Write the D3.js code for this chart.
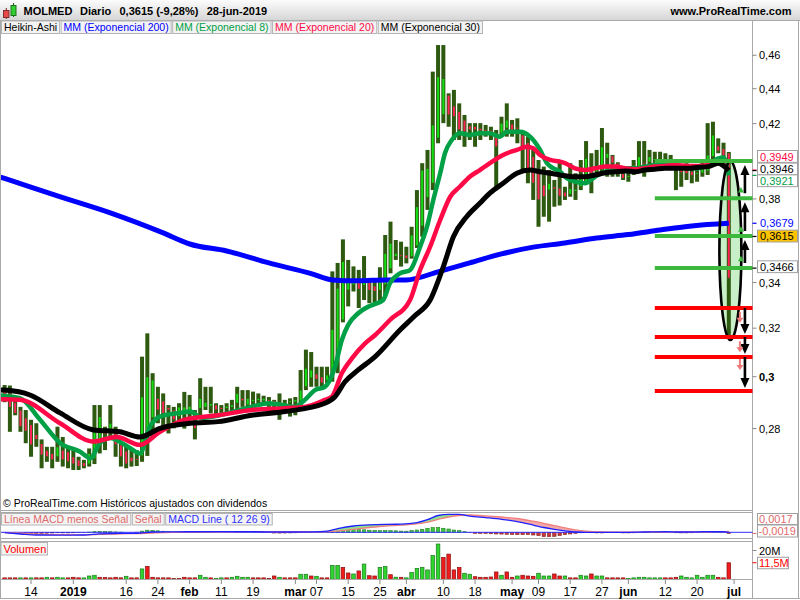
<!DOCTYPE html>
<html><head><meta charset="utf-8">
<script src="https://cdn.jsdelivr.net/npm/d3@7"></script>
<style>body{margin:0;background:#fff}svg{display:block;font-family:"Liberation Sans",Arial,sans-serif}</style>
</head><body><svg id="c" width="800" height="600"></svg>
<script>
// ---------------- DATA ----------------
const HOLIDAYS = ["2018-12-24","2018-12-25","2018-12-26","2018-12-31","2019-01-01","2019-04-19","2019-04-22","2019-05-01"];
const FIRST_DAY = "2018-12-07", LAST_DAY = "2019-06-28";
const xTickDates  = ["2018-12-14","2019-01-02","2019-01-16","2019-01-24","2019-02-01","2019-02-11","2019-02-19","2019-03-01","2019-03-07","2019-03-15","2019-03-25","2019-04-01","2019-04-10","2019-04-18","2019-05-02","2019-05-09","2019-05-17","2019-05-27","2019-06-03","2019-06-12","2019-06-20","2019-07-01"];
const xTickLabels = ["14","2019","16","24","feb","11","19","mar","07","15","25","abr","10","18","may","09","17","27","jun","12","20","jul"];
const xTickBold   = [0,1,0,0,1,0,0,1,0,0,0,1,0,0,1,0,0,0,1,0,0,1];

// Heikin-Ashi candles (one per trading day)
const haOpen = [.2945,.2935,.2900,.2870,.2840,.2815,.2778,.2745,.2720,.2709,
.2697,.2721,.2715,.2697,.2686,.2676,.2671,.2690,.2740,.2800,
.2790,.2790,.2740,.2718,.2695,.2690,.2700,.2790,.2840,.2915,
.2905,.2880,.2870,.2845,.2860,.2862,.2830,.2876,.2880,.2885,
.2890,.2880,.2876,.2880,.2896,.2915,.2889,.2902,.2906,.2905,
.2910,.2907,.2900,.2897,.2898,.2900,.2905,.2960,.2995,.3011,
.3000,.2985,.2996,.3095,.3235,.3366,.3389,.3405,.3387,.3403,
.3385,.3365,.3390,.3463,.3520,.3528,.3527,.3519,.3570,.3665,
.3807,.3880,.4120,.4250,.4363,.4300,.4270,.4220,.4188,.4185,
.4175,.4168,.4164,.4137,.4147,.4175,.4198,.4180,.4137,.4096,
.4020,.3950,.3872,.3845,.3862,.3856,.3835,.3823,.3838,.3862,
.3888,.3950,.3940,.3950,.4011,.4025,.3985,.3930,.3918,.3949,
.3962,.3990,.3990,.4005,.4008,.4006,.4003,.3996,.3978,.3956,
.3943,.3932,.3933,.3944,.4020,.4078,.4064,.4040];
const haHigh = [.2967,.2965,.2905,.2882,.2870,.2833,.2820,.2760,.2733,.2733,
.2807,.2769,.2727,.2721,.2697,.2686,.2727,.2889,.2889,.2807,
.2889,.2807,.2746,.2733,.2721,.2721,.3081,.3178,.3014,.2960,
.2934,.2889,.2882,.2896,.2940,.2928,.2870,.2994,.2960,.2960,
.2896,.2889,.2896,.2909,.2960,.2947,.2947,.2941,.2934,.2925,
.2920,.2909,.2934,.2909,.2915,.2920,.3027,.3110,.3100,.3040,
.3040,.3040,.3451,.3490,.3601,.3504,.3474,.3458,.3522,.3412,
.3420,.3470,.3622,.3687,.3598,.3590,.3566,.3662,.3845,.3985,
.4056,.4501,.4663,.4663,.4373,.4393,.4315,.4249,.4203,.4203,
.4203,.4193,.4183,.4165,.4239,.4315,.4221,.4230,.4147,.4128,
.4056,.4002,.3967,.3949,.3897,.3993,.3862,.3985,.3932,.4002,
.4104,.4038,.4056,.4176,.4095,.4029,.3990,.3967,.3958,.4002,
.4104,.4104,.4056,.4046,.4046,.4038,.4029,.4002,.3980,.3985,
.3975,.3975,.4002,.4203,.4211,.4119,.4095,.4045];
const haLow = [.2900,.2788,.2850,.2788,.2746,.2697,.2733,.2656,.2679,.2656,
.2679,.2662,.2656,.2650,.2650,.2656,.2662,.2671,.2709,.2721,
.2758,.2697,.2662,.2656,.2662,.2664,.2679,.2700,.2769,.2820,
.2807,.2782,.2801,.2807,.2800,.2840,.2760,.2845,.2870,.2857,
.2845,.2857,.2850,.2857,.2857,.2882,.2882,.2882,.2889,.2889,
.2882,.2857,.2833,.2857,.2845,.2850,.2896,.2947,.2960,.2960,
.2960,.2974,.2980,.3014,.3225,.3294,.3360,.3287,.3322,.3308,
.3310,.3310,.3340,.3442,.3504,.3473,.3488,.3510,.3560,.3614,
.3745,.3845,.4092,.4203,.4183,.4110,.4110,.4073,.4110,.4073,
.4110,.4128,.4110,.3853,.4128,.4128,.4128,.4092,.3949,.3880,
.3795,.3662,.3711,.3687,.3761,.3767,.3795,.3811,.3795,.3845,
.3880,.3829,.3914,.3932,.3914,.3914,.3914,.3897,.3888,.3923,
.3958,.3914,.3975,.3967,.3975,.3975,.3958,.3845,.3862,.3897,
.3880,.3888,.3914,.3923,.4002,.4038,.4002,.3160];
const haClose = [.2925,.2880,.2857,.2807,.2790,.2740,.2760,.2703,.2697,.2686,
.2733,.2686,.2679,.2671,.2662,.2662,.2709,.2788,.2845,.2780,
.2820,.2740,.2697,.2671,.2679,.2686,.2921,.3000,.2987,.2870,
.2857,.2870,.2833,.2882,.2882,.2885,.2800,.2915,.2900,.2895,
.2870,.2872,.2885,.2890,.2934,.2905,.2915,.2910,.2915,.2915,
.2905,.2895,.2895,.2900,.2905,.2910,.2947,.3034,.3027,.2990,
.2975,.3007,.3195,.3375,.3497,.3412,.3420,.3370,.3420,.3365,
.3360,.3410,.3535,.3583,.3535,.3520,.3511,.3622,.3761,.3949,
.3958,.4193,.4471,.4460,.4249,.4239,.4165,.4155,.4165,.4165,
.4160,.4160,.4150,.4073,.4203,.4221,.4160,.4175,.4056,.3932,
.3880,.3795,.3811,.3880,.3850,.3814,.3811,.3853,.3850,.3914,
.4011,.3930,.3960,.4073,.4038,.3985,.3960,.3905,.3920,.3975,
.4020,.3985,.4020,.4010,.4005,.4000,.3990,.3960,.3935,.3930,
.3920,.3935,.3955,.4029,.4137,.4050,.4025,.3420];

// Moving averages read at sample days: [dayIndex, value] (-0.9 = left edge of the chart)
const ema200 = [[-0.9,.3913],[0,.3905],[10,.3815],[20,.3730],[30,.3632],[35,.3579],[42,.3546],[50,.3490],[58,.3441],[62,.3412],[67,.3408],[72,.3412],[76,.3412],[82,.3449],[88,.3490],[94,.3532],[100,.3564],[106,.3584],[112,.3608],[118,.3624],[124,.3646],[130,.3666],[137,.3679]];
const ema8 = [[-0.9,.2926],[0,.2924],[2.9,.2916],[6.7,.2833],[10.5,.2747],[14.3,.2715],[16.2,.2692],[18,.2746],[19.9,.2765],[23.7,.2729],[25.6,.2709],[27.5,.2807],[29.4,.2845],[33.2,.2859],[35.1,.2864],[37.3,.2840],[46.7,.2882],[49.9,.2896],[54.9,.2882],[56.8,.2909],[58.7,.2947],[60.6,.2960],[62.5,.3040],[63.8,.3150],[65,.3214],[66.9,.3264],[68.8,.3293],[70.1,.3305],[71.6,.3322],[72.9,.3397],[74.8,.3442],[76.7,.3457],[78.6,.3566],[79.9,.3662],[81.1,.3795],[82.4,.3932],[83.3,.4038],[84.6,.4110],[86.1,.4147],[88,.4137],[89.9,.4147],[91.8,.4147],[93.7,.4128],[95,.4155],[97.5,.4155],[99.4,.4128],[101.3,.4056],[102.6,.3985],[103.8,.3958],[105.1,.3940],[106,.3914],[107.9,.3888],[109.8,.3880],[111.7,.3914],[113.6,.3940],[115.5,.3949],[117.4,.3958],[119.3,.3958],[121.1,.3967],[123,.3975],[124.9,.3985],[126.8,.3975],[129.3,.3958],[131.2,.3958],[133.1,.3975],[135,.4011],[136,.4015],[137,.3921]];
const ema20 = [[-0.9,.2911],[0,.2911],[2.9,.2909],[10.5,.2820],[16.8,.2752],[21.2,.2769],[25.6,.2740],[29.4,.2788],[34.1,.2833],[40.4,.2850],[46.7,.2870],[53,.2877],[56.8,.2882],[60.6,.2909],[61.9,.2921],[63.8,.3014],[65.7,.3074],[68.2,.3136],[70.1,.3171],[72.9,.3235],[76.7,.3322],[78.6,.3457],[80.5,.3566],[82.4,.3695],[84.3,.3811],[86.1,.3862],[88,.3914],[89.9,.3949],[91.8,.3985],[94.3,.4029],[96.9,.4056],[98.8,.4073],[100,.4065],[101.3,.4029],[103.2,.4002],[105.1,.3993],[106,.3985],[107.9,.3958],[109.8,.3949],[111.7,.3958],[113.6,.3967],[115.5,.3967],[117.4,.3958],[119.3,.3953],[121.1,.3958],[123,.3967],[124.9,.3970],[126.8,.3975],[129.3,.3970],[131.2,.3970],[133.1,.3975],[135,.3993],[137,.3949]];
const ema30 = [[-0.9,.2948],[0,.2947],[4.8,.2928],[10.5,.2859],[16.8,.2795],[21.8,.2788],[25.6,.2769],[29.4,.2801],[35.1,.2820],[40.4,.2826],[46.7,.2850],[53,.2864],[60.6,.2896],[62.5,.2921],[64.4,.2980],[66.9,.3027],[70.1,.3081],[74.8,.3192],[77.6,.3253],[80.5,.3322],[83,.3473],[84.9,.3614],[87.4,.3711],[89.9,.3778],[91.8,.3829],[94.3,.3880],[96.9,.3932],[99.4,.3949],[101.3,.3940],[103.2,.3932],[105.1,.3923],[107.9,.3914],[109.8,.3914],[111.7,.3923],[113.6,.3935],[115.5,.3940],[117.4,.3944],[119.3,.3940],[121.1,.3949],[123,.3953],[124.9,.3958],[126.8,.3958],[129.3,.3958],[131.2,.3963],[133.1,.3967],[135,.3985],[137,.3946]];

// Volume (millions) and colour (g = up, r = down)
const volume = [1,1,1,1,1,1,1,1,1.4,1,
1.4,1,1,1.4,1,1,2.3,2.8,1.4,1.2,
1,1.4,1,2.1,1,1,7.2,9,1.4,1,
1,1,0.5,0.5,1.4,1,1,2.8,1.4,1,
0.5,1,1,1.4,2.1,1.4,1.4,1,1,1,
0.6,2.3,1.4,1,1,1,3.5,3.5,2.3,2.1,
1,1,9.7,9.7,8.3,4.4,3.7,5.8,10.6,2.5,
2.3,8.3,9,3.2,1.5,1.4,1,4.8,7.6,8.3,
6.5,16.6,24.5,15.2,17.5,6.5,8.3,4.2,3.5,1.8,
1.4,1.4,1.6,5.1,2.8,5.1,1.4,2.3,2.8,2.3,
2.1,4.2,2.3,2.3,3.7,2.3,2.3,1,1,2.8,
2.3,3.7,2.3,2.3,1,1,1,1,0.5,1,
1.4,1.4,1,1,1,1,1,1.4,2.3,1.4,
1,2.8,1.4,2.8,2.8,1.4,1,11.5];
const volColor = "rrrgrgrrgr"+"ggrrrgggrr"+"rrrgrrgrrr"+"rrrrrrrggr"+"ggrggggrrr"+"rrgrrrggrg"+"rrggrrgrgr"+"rggrgrgggg"+"gggrrrrggr"+"rrrrgrrgrr"+"rgggrrgrrg"+"grggrrrrgg"+"gggggrrrgg"+"gggggrrr";

// MACD (12 26 9)
const macdIdx = [0,3,6,10,15,18,22,25,28,32,38,45,50,54,58,61,63,66,69,72,75,78,80,82,84,86,88,91,94,97,100,102,104,106,108,110,113,117,121,125,128,131,134,136,137];
const macdLine = [-.0007,-.0028,-.0045,-.0048,-.0045,-.0025,-.0017,-.0017,.0005,.0008,.0010,.0010,.0008,.0005,.0008,.0020,.0060,.0105,.0125,.0133,.0135,.0160,.0210,.0280,.0300,.0300,.0270,.0245,.0217,.0177,.0120,.0080,.0050,.0025,.0005,0,0,0,.0005,.0012,.0005,.0008,.0012,.0010,-.0002];
const macdSignal = [-.0005,-.0015,-.0030,-.0040,-.0042,-.0035,-.0025,-.0022,-.0012,0,.0008,.0010,.0010,.0009,.0008,.0012,.0020,.0050,.0080,.0105,.0118,.0140,.0170,.0215,.0255,.0280,.0288,.0275,.0255,.0230,.0185,.0150,.0110,.0075,.0040,.0018,.0005,.0001,.0002,.0008,.0008,.0007,.0010,.0011,.0017];
const macdHist = [-.0005,-.0012,-.0015,-.0015,-.0017,-.0018,-.0017,-.0018,-.0015,-.0012,
-.0008,-.0010,-.0010,-.0008,-.0006,-.0004,.0003,.0010,.0013,.0012,
.0010,.0006,.0003,0,0,.0002,.0020,.0035,.0033,.0025,
.0018,.0012,.0008,.0006,.0005,.0004,.0002,.0003,.0002,.0001,
0,0,0,0,.0001,.0001,0,0,0,-.0002,
-.0004,-.0012,-.0013,-.0012,-.0010,-.0008,-.0004,.0003,.0006,.0004,
.0002,.0002,.0020,.0035,.0048,.0052,.0050,.0045,.0042,.0035,
.0030,.0028,.0030,.0028,.0025,.0020,.0018,.0028,.0038,.0050,
.0067,.0078,.0083,.0067,.0055,.0038,.0028,.0010,-.0005,-.0017,
-.0018,-.0020,-.0024,-.0028,-.0030,-.0033,-.0036,-.0039,-.0039,-.0039,
-.0045,-.0055,-.0072,-.0072,-.0067,-.0055,-.0039,-.0028,-.0017,-.0008,
-.0004,-.0002,-.0010,-.0010,-.0004,0,0,-.0010,-.0010,-.0008,
-.0003,.0002,.0004,.0005,.0004,.0002,0,-.0008,-.0010,-.0010,
-.0008,-.0002,.0002,.0004,.0006,.0003,.0002,-.0019];

// Drawn annotations (price levels)
const greenLevels = [0.3997, 0.3804, 0.3617, 0.3466];
const redLevels   = [0.3287, 0.3163, 0.3080, 0.2943];
const levelStartDay = 123;
const greenMarks = [0.3845, 0.3650, 0.3510];
const pinkMarks  = [0.3245, 0.3120, 0.3047];
const ellipseTop = 0.3995, ellipseBottom = 0.3150, ellipseDay = 137.3;
const lastPrice = 0.3615;

const priceTicks = [0.28, 0.30, 0.32, 0.34, 0.38, 0.42, 0.44, 0.46];
const header = {name:"MOLMED", period:"Diario", last:"0,3615", change:"(-9,28%)", date:"28-jun-2019"};
const legendItems = [["Heikin-Ashi","#000"],["MM (Exponencial 200)","#0000ff"],["MM (Exponencial 8)","#00a046"],["MM (Exponencial 20)","#ff0a47"],["MM (Exponencial 30)","#000"]];

// ---------------- TRADING DAYS ----------------
const days = [];
for (let t = Date.parse(FIRST_DAY+"T00:00:00Z"); t <= Date.parse(LAST_DAY+"T00:00:00Z"); t += 86400000) {
  const d = new Date(t), s = d.toISOString().slice(0,10), wd = d.getUTCDay();
  if (wd !== 0 && wd !== 6 && !HOLIDAYS.includes(s)) days.push(s);
}
const dayIndex = s => { const k = days.indexOf(s); return k >= 0 ? k : days.length; };

// ---------------- SCALES ----------------
const F = '"Liberation Sans", Arial, sans-serif';
const svg = d3.select("#c");
const x = d3.scaleLinear().domain([0, 137]).range([4.6, 728.8]);
const y = d3.scaleLog().domain([0.28, 0.46]).range([428.58, 55.27]);
const yVol = d3.scaleLinear().domain([0, 20]).range([579.3, 550.5]);
const yMacd = d3.scaleLinear().domain([0, 0.03]).range([532.3, 514.3]);
const fmt = v => String(+v.toFixed(4)).replace(".", ",");
const fmt4 = v => (v<0?"-":"") + Math.abs(v).toFixed(4).replace(".", ",");

const defs = svg.append("defs");
const gr = defs.append("linearGradient").attr("id","hdr").attr("x1",0).attr("y1",0).attr("x2",0).attr("y2",1);
gr.append("stop").attr("offset","0%").attr("stop-color","#fcfcfc");
gr.append("stop").attr("offset","100%").attr("stop-color","#d6d6d6");
function clip(id,x0,y0,w,h){defs.append("clipPath").attr("id",id).append("rect").attr("x",x0).attr("y",y0).attr("width",w).attr("height",h);}
clip("cMain",1,21,751.5,489.5); clip("cMacd",1,513,751.5,25); clip("cVol",1,542,751.5,37);

svg.append("rect").attr("width",800).attr("height",600).attr("fill","#fff");

// ---------------- HEADER ----------------
svg.append("rect").attr("x",0).attr("y",0).attr("width",800).attr("height",20).attr("fill","url(#hdr)");
const icon = svg.append("g");
icon.append("line").attr("x1",6.3).attr("x2",6.3).attr("y1",8).attr("y2",19).attr("stroke","#702020");
icon.append("rect").attr("x",3.5).attr("y",10.5).attr("width",5.5).attr("height",7).attr("fill","#e84848").attr("stroke","#803030");
icon.append("line").attr("x1",13.5).attr("x2",13.5).attr("y1",3).attr("y2",17).attr("stroke","#206020");
icon.append("rect").attr("x",11).attr("y",5.5).attr("width",5).attr("height",10).attr("fill","#30d030").attr("stroke","#207020");
const ht = svg.append("g").attr("font-family",F).attr("font-size",11).attr("font-weight","bold").attr("fill","#000");
ht.append("text").attr("x",23.5).attr("y",15).text(header.name);
ht.append("text").attr("x",80).attr("y",15).text(header.period);
ht.append("text").attr("x",119.5).attr("y",15).text(header.last+" "+header.change);
ht.append("text").attr("x",206.7).attr("y",15).text(header.date);
ht.append("text").attr("x",791.5).attr("y",15).attr("text-anchor","end").text("www.ProRealTime.com");

// ---------------- FRAMES ----------------
const frame = svg.append("g").attr("stroke","#a9a9a9").attr("fill","none");
frame.append("line").attr("x1",0).attr("x2",800).attr("y1",20.5).attr("y2",20.5);
frame.append("line").attr("x1",0.5).attr("x2",0.5).attr("y1",20.5).attr("y2",598);
frame.append("line").attr("x1",752.5).attr("x2",752.5).attr("y1",20.5).attr("y2",598);
frame.append("line").attr("x1",798.5).attr("x2",798.5).attr("y1",20.5).attr("y2",598);
frame.append("line").attr("x1",0).attr("x2",752.5).attr("y1",510.5).attr("y2",510.5);
frame.append("rect").attr("x",0.5).attr("y",512.5).attr("width",752).attr("height",26);
frame.append("rect").attr("x",0.5).attr("y",541.5).attr("width",752).attr("height",38);
frame.append("line").attr("x1",0).attr("x2",800).attr("y1",598.5).attr("y2",598.5);

// ---------------- MAIN PRICE PANEL ----------------
const g = svg.append("g").attr("clip-path","url(#cMain)");
const ecx = x(ellipseDay), ecy = (y(ellipseTop)+y(ellipseBottom))/2, ery = (y(ellipseBottom)-y(ellipseTop))/2;
g.append("ellipse").attr("cx",ecx).attr("cy",ecy).attr("rx",11).attr("ry",ery).attr("fill","#c8efc8");

const idx = d3.range(haOpen.length);
g.append("g").selectAll("rect").data(idx).join("rect")
  .attr("x",i=>x(i)-2).attr("width",4)
  .attr("y",i=>y(haHigh[i])).attr("height",i=>Math.max(1,y(haLow[i])-y(haHigh[i])))
  .attr("fill","#2d5a10");
g.append("g").selectAll("rect").data(idx).join("rect")
  .attr("x",i=>x(i)-1).attr("width",2)
  .attr("y",i=>y(Math.max(haOpen[i],haClose[i]))+0.5)
  .attr("height",i=>Math.max(0.8,Math.abs(y(haOpen[i])-y(haClose[i]))-1))
  .attr("fill",i=>haClose[i]>=haOpen[i]?"#12dc12":"#ff2356");

const line = d3.line().x(d=>x(d[0])).y(d=>y(d[1])).curve(d3.curveMonotoneX);
[[ema200,"#0000ff",5],[ema8,"#00a046",4.5],[ema20,"#ff0a47",4.5],[ema30,"#000000",5]].forEach(([data,c,w])=>{
  g.append("path").attr("d",line(data)).attr("fill","none").attr("stroke",c).attr("stroke-width",w).attr("stroke-linejoin","round").attr("stroke-linecap","butt");
});
g.append("ellipse").attr("cx",ecx).attr("cy",ecy).attr("rx",11).attr("ry",ery).attr("fill","none").attr("stroke","#000").attr("stroke-width",2.6);

const xl0 = x(levelStartDay);
greenLevels.forEach(v=>g.append("line").attr("x1",xl0).attr("x2",753).attr("y1",y(v)).attr("y2",y(v)).attr("stroke","#3cb83c").attr("stroke-width",4));
redLevels.forEach(v=>g.append("line").attr("x1",xl0).attr("x2",753).attr("y1",y(v)).attr("y2",y(v)).attr("stroke","#ff0000").attr("stroke-width",4));

function arrow(px, y1, y2, color, sw, hw, hl){
  const dir = y2 < y1 ? -1 : 1;
  g.append("line").attr("x1",px).attr("x2",px).attr("y1",y1).attr("y2",y2-dir*hl*0.6).attr("stroke",color).attr("stroke-width",sw);
  g.append("path").attr("d",`M${px-hw/2},${y2-dir*hl} L${px+hw/2},${y2-dir*hl} L${px},${y2} Z`).attr("fill",color);
}
const ax = x(140.05);
for (let k=greenLevels.length-1;k>0;k--) arrow(ax, y(greenLevels[k])-5, y(greenLevels[k-1])+4, "#000", 2.6, 9, 10);
for (let k=0;k<redLevels.length-1;k++) arrow(ax, y(redLevels[k]), y(redLevels[k+1])-3, "#000", 2.6, 9, 10);
pinkMarks.forEach(v=>{ const p=x(139.1), yy=y(v);
  g.append("line").attr("x1",p).attr("x2",p).attr("y1",yy-6).attr("y2",yy+1).attr("stroke","#f07a7a").attr("stroke-width",2);
  g.append("path").attr("d",`M${p-3.5},${yy} L${p+3.5},${yy} L${p},${yy+5} Z`).attr("fill","#f07a7a");
});
greenMarks.forEach(v=>{ const p=x(139.3), yy=y(v);
  g.append("path").attr("d",`M${p-3},${yy+2.5} L${p+3},${yy+2.5} L${p},${yy-3} Z`).attr("fill","#3cb83c");
});

// legend row
let lx = 1.5;
legendItems.forEach(([t,c])=>{
  const r = svg.append("rect").attr("y",21).attr("height",12.5).attr("fill","#f3f3f3").attr("stroke","#b4b4b4");
  const tx = svg.append("text").attr("x",lx+2.5).attr("y",31).attr("font-family",F).attr("font-size",10.5).attr("fill",c).text(t);
  const w = tx.node().getComputedTextLength()+5;
  r.attr("x",lx).attr("width",w); lx += w + 1.5;
});
svg.append("text").attr("x",3).attr("y",507).attr("font-family",F).attr("font-size",10.5).attr("fill","#000")
  .text("© ProRealTime.com  Históricos ajustados con dividendos");

// right price axis
const ra = svg.append("g").attr("font-family",F).attr("font-size",11);
priceTicks.forEach(v=>{
  ra.append("line").attr("x1",752.5).attr("x2",756.5).attr("y1",y(v)).attr("y2",y(v)).attr("stroke","#888");
  const lab = fmt(v);
  ra.append("text").attr("x",759).attr("y",y(v)+4).attr("font-weight",lab.length===3?"bold":"normal").text(lab);
});
function tag(v, dy, color, fill, boxed){
  const yy = y(v);
  ra.append("line").attr("x1",752.5).attr("x2",756.5).attr("y1",yy).attr("y2",yy).attr("stroke",color).attr("stroke-width",1.2);
  if (boxed) ra.append("rect").attr("x",757.5).attr("y",yy+dy-6).attr("width",40).attr("height",11.8).attr("fill",fill).attr("stroke","#a0a0a0");
  ra.append("text").attr("x",760).attr("y",yy+dy+4).attr("fill",color).text(fmt(v));
}
const last = a => a[a.length-1][1];
tag(last(ema20), -13.5, "#ff0a47", "#fff", true);
tag(last(ema30), -1.5, "#000", "#fff", true);
tag(last(ema8), 5.5, "#00a046", "#fff", true);
tag(last(ema200), 0, "#0000ff", "#fff", false);
tag(lastPrice, -0.3, "#000", "#ffc400", true);
tag(greenLevels[3], -1.3, "#000", "#fff", true);

// ---------------- MACD PANEL ----------------
const gm = svg.append("g").attr("clip-path","url(#cMacd)");
gm.append("g").selectAll("rect").data(idx).join("rect")
  .attr("x",i=>x(i)-1.7).attr("width",3.4)
  .attr("y",i=>Math.min(yMacd(0),yMacd(macdHist[i]))).attr("height",i=>Math.abs(yMacd(macdHist[i])-yMacd(0)))
  .attr("fill",i=>macdHist[i]>=0?"#3cc83c":"#c83a3a").attr("stroke",i=>macdHist[i]>=0?"#1f801f":"#802020").attr("stroke-width",0.6);
const mrows = macdIdx.map((d,k)=>({i:d,m:macdLine[k],s:macdSignal[k]}));
gm.append("path").attr("d",d3.area().x(d=>x(d.i)).y0(d=>yMacd(d.s)).y1(d=>yMacd(Math.max(d.m,d.s))).curve(d3.curveMonotoneX)(mrows)).attr("fill","#8fe08f");
gm.append("path").attr("d",d3.area().x(d=>x(d.i)).y0(d=>yMacd(d.s)).y1(d=>yMacd(Math.min(d.m,d.s))).curve(d3.curveMonotoneX)(mrows)).attr("fill","#f2a8a8");
gm.append("line").attr("x1",0).attr("x2",753).attr("y1",yMacd(0)).attr("y2",yMacd(0)).attr("stroke","#3030ff").attr("stroke-width",1);
gm.append("path").attr("d",d3.line().x(d=>x(d.i)).y(d=>yMacd(d.s)).curve(d3.curveMonotoneX)(mrows)).attr("fill","none").attr("stroke","#f08080").attr("stroke-width",1.3);
gm.append("path").attr("d",d3.line().x(d=>x(d.i)).y(d=>yMacd(d.m)).curve(d3.curveMonotoneX)(mrows)).attr("fill","none").attr("stroke","#2020ff").attr("stroke-width",1.3);
let mx = 1.5;
[["Línea MACD menos Señal","#e06a6a"],["Señal","#e06a6a"],["MACD Line ( 12 26 9)","#3030ff"]].forEach(([t,c])=>{
  const r = svg.append("rect").attr("y",513.5).attr("height",11.5).attr("fill","#f3f3f3").attr("stroke","#b4b4b4");
  const tx = svg.append("text").attr("x",mx+2.5).attr("y",523).attr("font-family",F).attr("font-size",10.5).attr("fill",c).text(t);
  const w = tx.node().getComputedTextLength()+5; r.attr("x",mx).attr("width",w); mx += w + 1.5;
});
const lastSig = macdSignal[macdSignal.length-1], lastHist = macdHist[macdHist.length-1];
svg.append("rect").attr("x",757.5).attr("y",513.5).attr("width",40).attr("height",11).attr("fill","#fff").attr("stroke","#a0a0a0");
svg.append("text").attr("x",759).attr("y",522.5).attr("font-family",F).attr("font-size",11).attr("fill","#e06a6a").text(fmt4(lastSig));
svg.append("line").attr("x1",752.5).attr("x2",756.5).attr("y1",yMacd(lastHist)).attr("y2",yMacd(lastHist)).attr("stroke","#e06a6a");
svg.append("rect").attr("x",757.5).attr("y",525).attr("width",40).attr("height",12).attr("fill","#fff").attr("stroke","#a0a0a0");
svg.append("text").attr("x",758.5).attr("y",535).attr("font-family",F).attr("font-size",11).attr("fill","#e06a6a").text(fmt4(lastHist));

// ---------------- VOLUME PANEL ----------------
const gv = svg.append("g").attr("clip-path","url(#cVol)");
gv.append("g").selectAll("rect").data(idx).join("rect")
  .attr("x",i=>x(i)-1.8).attr("width",3.6)
  .attr("y",i=>yVol(volume[i])).attr("height",i=>yVol(0)-yVol(volume[i]))
  .attr("fill",i=>volColor[i]==="g"?"#2fd42f":"#ee1c1c").attr("stroke",i=>volColor[i]==="g"?"#1a7a1a":"#8a1010").attr("stroke-width",0.7);
svg.append("rect").attr("x",1).attr("y",542.5).attr("width",46.5).attr("height",12.5).attr("fill","#f3f3f3").attr("stroke","#b4b4b4");
svg.append("text").attr("x",3.5).attr("y",553).attr("font-family",F).attr("font-size",11).attr("fill","#ff0000").text("Volumen");
svg.append("line").attr("x1",752.5).attr("x2",756.5).attr("y1",yVol(20)).attr("y2",yVol(20)).attr("stroke","#888");
svg.append("text").attr("x",759).attr("y",yVol(20)+4).attr("font-family",F).attr("font-size",11).text("20M");
const lastVol = volume[volume.length-1];
svg.append("line").attr("x1",752.5).attr("x2",756.5).attr("y1",yVol(lastVol)).attr("y2",yVol(lastVol)).attr("stroke","#ff0000");
svg.append("rect").attr("x",757.5).attr("y",yVol(lastVol)-5.5).attr("width",31).attr("height",11.5).attr("fill","#fff").attr("stroke","#a0a0a0");
svg.append("text").attr("x",759).attr("y",yVol(lastVol)+4).attr("font-family",F).attr("font-size",11).attr("fill","#ff0000").text(String(lastVol).replace(".",",")+"M");

// ---------------- X AXIS ----------------
const xa = svg.append("g").attr("font-family",F).attr("font-size",12).attr("text-anchor","middle");
xTickDates.forEach((d,k)=>{
  const px = x(dayIndex(d));
  xa.append("line").attr("x1",px).attr("x2",px).attr("y1",579.5).attr("y2",584).attr("stroke","#888");
  xa.append("text").attr("x",px).attr("y",596).attr("font-weight",xTickBold[k]?"bold":"normal").text(xTickLabels[k]);
});
</script></body></html>
